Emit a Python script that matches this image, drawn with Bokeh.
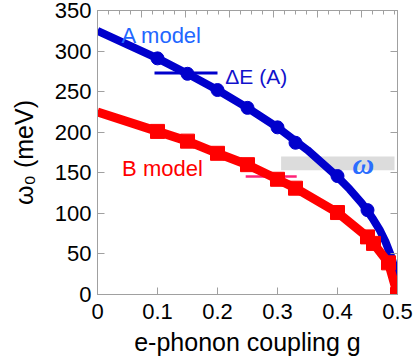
from bokeh.plotting import figure
from bokeh.models import Range1d, LinearAxis, FixedTicker
from bokeh.core.properties import value
from bokeh.embed import file_html
from bokeh.resources import INLINE

# ---- data ----
# A model: smooth curve and markers
a_curve_g = [0.0, 0.05, 0.1, 0.15, 0.2, 0.25, 0.3, 0.35, 0.4, 0.42, 0.44, 0.45, 0.46, 0.47, 0.48, 0.49, 0.495, 0.498, 0.5]
a_curve_w = [325, 308, 291, 272, 252, 230, 206, 178, 145, 130, 113, 103, 92, 80, 65, 46, 32, 21, 0]
a_pts_g = [0.1, 0.15, 0.2, 0.25, 0.3, 0.33, 0.4, 0.45]
a_pts_w = [291, 272, 252, 230, 206, 187, 146, 104]

# B model: polyline through markers
b_line_g = [0.0, 0.1, 0.15, 0.2, 0.25, 0.3, 0.33, 0.4, 0.45, 0.46, 0.485, 0.5]
b_line_w = [225, 201, 189, 174, 160, 142, 131, 101, 71, 63, 39, 0]
b_pts_g = [0.1, 0.15, 0.2, 0.25, 0.3, 0.33, 0.4, 0.45, 0.46, 0.485, 0.5]
b_pts_w = [201, 189, 174, 160, 142, 131, 101, 71, 63, 39, 0]

# Energy spread bars
dE_A_g = [0.095, 0.2]
dE_A_w = 273
dE_B_g = [0.247, 0.332]
dE_B_w = 145.5

# omega band
band_g = [0.306, 0.495]
band_w = [153, 170]

x_ticks = [0, 0.1, 0.2, 0.3, 0.4, 0.5]
x_tick_labels = ["0", "0.1", "0.2", "0.3", "0.4", "0.5"]
y_ticks = [0, 50, 100, 150, 200, 250, 300, 350]

FONT = "Liberation Sans"
AXIS_COLOR = "#a0a0a0"
BLUE = "#0000cc"
RED = "#ff0000"

p = figure(width=416, height=358, x_range=Range1d(0, 0.5), y_range=Range1d(0, 350),
           output_backend="svg", toolbar_location=None,
           min_border_left=97, min_border_right=19, min_border_top=10, min_border_bottom=61)
p.xgrid.visible = False
p.ygrid.visible = False
p.outline_line_color = AXIS_COLOR
p.background_fill_color = "white"
p.border_fill_color = "white"

# bottom axis
xa = p.xaxis[0]
xa.ticker = FixedTicker(ticks=x_ticks, minor_ticks=[])
xa.major_label_overrides = {t: l for t, l in zip(x_ticks, x_tick_labels)}
xa.axis_label = "e-phonon coupling g"
# left axis
ya = p.yaxis[0]
ya.ticker = FixedTicker(ticks=y_ticks, minor_ticks=[])
ya.axis_label = "ω₀ (meV)"

for ax in (xa, ya):
    ax.axis_line_color = AXIS_COLOR
    ax.major_tick_line_color = AXIS_COLOR
    ax.major_tick_in = 7
    ax.major_tick_out = 0
    ax.minor_tick_line_color = None
    ax.major_label_text_font = FONT
    ax.major_label_text_font_size = "22px"
    ax.major_label_text_color = "black"
    ax.axis_label_text_font = FONT
    ax.axis_label_text_font_size = "25px"
    ax.axis_label_text_font_style = "normal"
    ax.axis_label_text_color = "black"
xa.major_label_standoff = 9
xa.axis_label_standoff = 6
ya.major_label_standoff = 6
ya.axis_label_standoff = 14

# right axis (ticks only)
ra = LinearAxis(ticker=FixedTicker(ticks=y_ticks, minor_ticks=[]))
ra.axis_line_color = AXIS_COLOR
ra.major_tick_line_color = AXIS_COLOR
ra.major_tick_in = 7
ra.major_tick_out = 0
ra.minor_tick_line_color = None
ra.major_label_text_font_size = "0px"
ra.major_label_standoff = 0
p.add_layout(ra, "right")

# top axis (ticks only, finer spacing)
p.extra_x_ranges = {"top": Range1d(0, 300 / 11)}
ta = LinearAxis(x_range_name="top",
                ticker=FixedTicker(ticks=list(range(0, 28, 4)), minor_ticks=list(range(0, 28))))
ta.axis_line_color = AXIS_COLOR
ta.major_tick_line_color = AXIS_COLOR
ta.minor_tick_line_color = AXIS_COLOR
ta.major_tick_in = 7
ta.major_tick_out = 0
ta.minor_tick_in = 4
ta.minor_tick_out = 0
ta.major_label_text_font_size = "0px"
ta.major_label_standoff = 0
p.add_layout(ta, "above")

# omega band
p.quad(left=[band_g[0]], right=[band_g[1]], bottom=[band_w[0]], top=[band_w[1]],
       fill_color="#dcdcdc", line_color=None)

# spread bars
p.segment(x0=[dE_A_g[0]], x1=[dE_A_g[1]], y0=[dE_A_w], y1=[dE_A_w], line_color=BLUE, line_width=3)
p.segment(x0=[dE_B_g[0]], x1=[dE_B_g[1]], y0=[dE_B_w], y1=[dE_B_w], line_color="#ff2277", line_width=2.5)

# A model
p.line(a_curve_g, a_curve_w, line_color=BLUE, line_width=8, line_join="round")
p.scatter(a_pts_g, a_pts_w, marker="circle", size=13, fill_color=BLUE, line_color=BLUE)

# B model
p.line(b_line_g, b_line_w, line_color=RED, line_width=9, line_join="round")
p.scatter(b_pts_g, b_pts_w, marker="square", size=14, fill_color=RED, line_color=RED)

# texts
p.text(x=[0.04], y=[319.5], text=["A model"], text_font=value(FONT), text_font_size="22px",
       text_color="#2266ff", text_align="left", text_baseline="alphabetic")
p.text(x=[0.041], y=[155], text=["B model"], text_font=value(FONT), text_font_size="22px",
       text_color=RED, text_align="left", text_baseline="alphabetic")
p.text(x=[0.213], y=[269], text=["ΔE (A)"], text_font=value(FONT), text_font_size="21px",
       text_color="#1111cc", text_align="left", text_baseline="alphabetic")
p.text(x=[0.443], y=[162], text=["ω"], text_font=value("Liberation Serif"), text_font_size="30px",
       text_font_style="bold italic", text_color="#2a6dff", text_align="center", text_baseline="middle")

open("out.html", "w").write(file_html(p, INLINE))
